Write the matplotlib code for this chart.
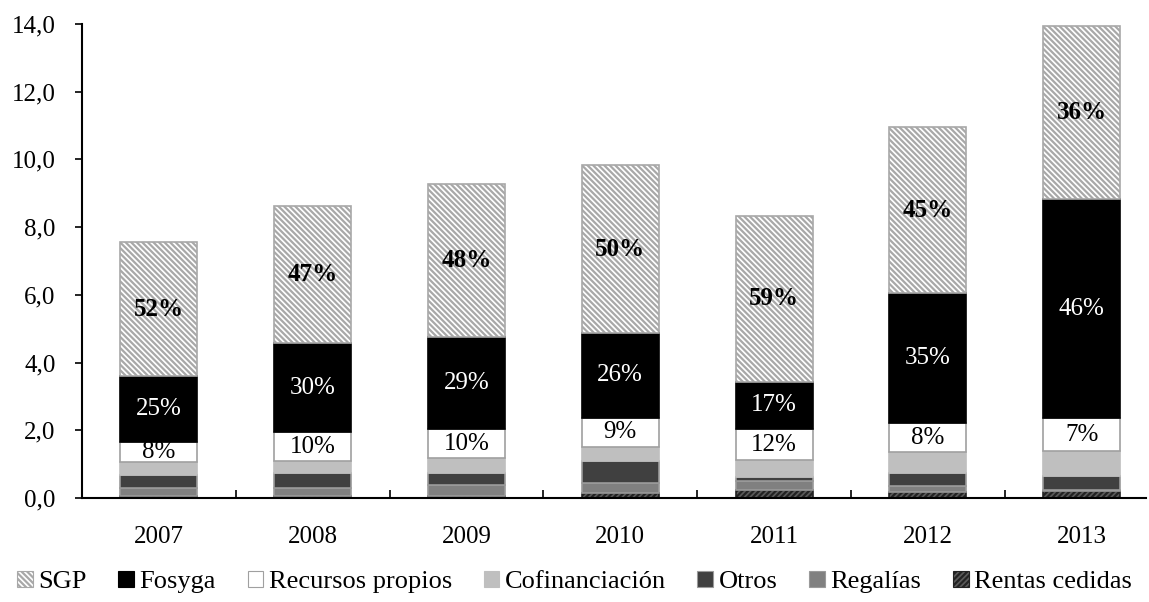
import matplotlib.pyplot as plt
from matplotlib.ticker import FixedLocator, FuncFormatter
from matplotlib.patches import Patch

plt.rcParams['font.family'] = ['Liberation Serif', 'DejaVu Serif']
plt.rcParams['hatch.linewidth'] = 1.6

# Health financing by source (billions), stacked bottom to top
years = ['2007', '2008', '2009', '2010', '2011', '2012', '2013']
rentas_cedidas = [0.07, 0.07, 0.07, 0.14, 0.24, 0.17, 0.22]
regalias = [0.23, 0.23, 0.31, 0.29, 0.27, 0.18, 0.02]
otros = [0.37, 0.43, 0.35, 0.66, 0.12, 0.40, 0.41]
cofinanciacion = [0.40, 0.36, 0.44, 0.43, 0.49, 0.60, 0.75]
recursos_propios = [0.59, 0.85, 0.87, 0.85, 0.91, 0.86, 0.95]
fosyga = [1.94, 2.64, 2.71, 2.50, 1.41, 3.84, 6.49]
sgp = [3.95, 4.04, 4.52, 4.96, 4.89, 4.90, 5.11]

# Share labels printed on the three main segments
sgp_pct = ['52%', '47%', '48%', '50%', '59%', '45%', '36%']
fosyga_pct = ['25%', '30%', '29%', '26%', '17%', '35%', '46%']
recursos_pct = ['8%', '10%', '10%', '9%', '12%', '8%', '7%']

series = [
    ('Rentas cedidas', rentas_cedidas, dict(facecolor='#5a5a5a', hatch='//////', edgecolor='#222222')),
    ('Regalías', regalias, dict(facecolor='#808080', edgecolor='#9a9a9a')),
    ('Otros', otros, dict(facecolor='#404040', edgecolor='#9a9a9a')),
    ('Cofinanciación', cofinanciacion, dict(facecolor='#bfbfbf', edgecolor='#bfbfbf')),
    ('Recursos propios', recursos_propios, dict(facecolor='white', edgecolor='#a0a0a0')),
    ('Fosyga', fosyga, dict(facecolor='black', edgecolor='black')),
    ('SGP', sgp, dict(facecolor='white', hatch='\\\\\\\\\\\\', edgecolor='#a8a8a8')),
]

FS = 18

fig = plt.figure(figsize=(11.49, 6.02), dpi=100, facecolor='white')
ax = fig.add_axes([82 / 1149, 104 / 602, (1146 - 82) / 1149, 474 / 602])

x = list(range(len(years)))
bottom = [0.0] * len(years)
for name, vals, style in series:
    ax.bar(x, vals, width=0.5, bottom=bottom, linewidth=1.2, zorder=2, **style)
    bottom = [b + v for b, v in zip(bottom, vals)]

# Segment labels
def seg_mid(i, upto):
    lo = sum(s[1][i] for s in series[:upto])
    return lo + series[upto][1][i] / 2

for i in x:
    ax.text(i, seg_mid(i, 6), sgp_pct[i], ha='center', va='center', fontsize=FS,
            fontweight='bold', color='black', zorder=4)
    ax.text(i, seg_mid(i, 5), fosyga_pct[i], ha='center', va='center', fontsize=FS,
            color='white', zorder=4)
    ax.text(i, seg_mid(i, 4), recursos_pct[i], ha='center', va='center', fontsize=FS,
            color='black', zorder=4)

ax.set_ylim(0, 14)
ax.set_xlim(-0.5, -0.5 + (1146 - 82) / 153.8)
ax.yaxis.set_major_locator(FixedLocator([0, 2, 4, 6, 8, 10, 12, 14]))
ax.yaxis.set_major_formatter(FuncFormatter(lambda v, p: f'{v:.1f}'.replace('.', ',')))
ax.set_xticks(x)
ax.set_xticklabels(years)
ax.set_xticks([i + 0.5 for i in x[:-1]], minor=True)
ax.tick_params(axis='x', which='major', length=0, pad=20, labelsize=FS)
ax.tick_params(axis='x', which='minor', direction='in', length=6, width=1.2)
ax.tick_params(axis='y', direction='out', length=5, width=1.2, pad=14, labelsize=FS)

for side in ['top', 'right']:
    ax.spines[side].set_visible(False)
for side in ['left', 'bottom']:
    ax.spines[side].set_linewidth(1.5)

# Legend in the order SGP ... Rentas cedidas
handles = [Patch(label=name, linewidth=0.8, **style) for name, vals, style in reversed(series)]
fig.legend(handles=handles, loc='center', bbox_to_anchor=(0.5, 20 / 602),
           ncol=7, frameon=False, fontsize=FS + 1, handlelength=0.6, handleheight=0.6,
           handletextpad=0.2, columnspacing=1.2, borderaxespad=0)

fig.savefig('out.png', dpi=100, facecolor='white')
